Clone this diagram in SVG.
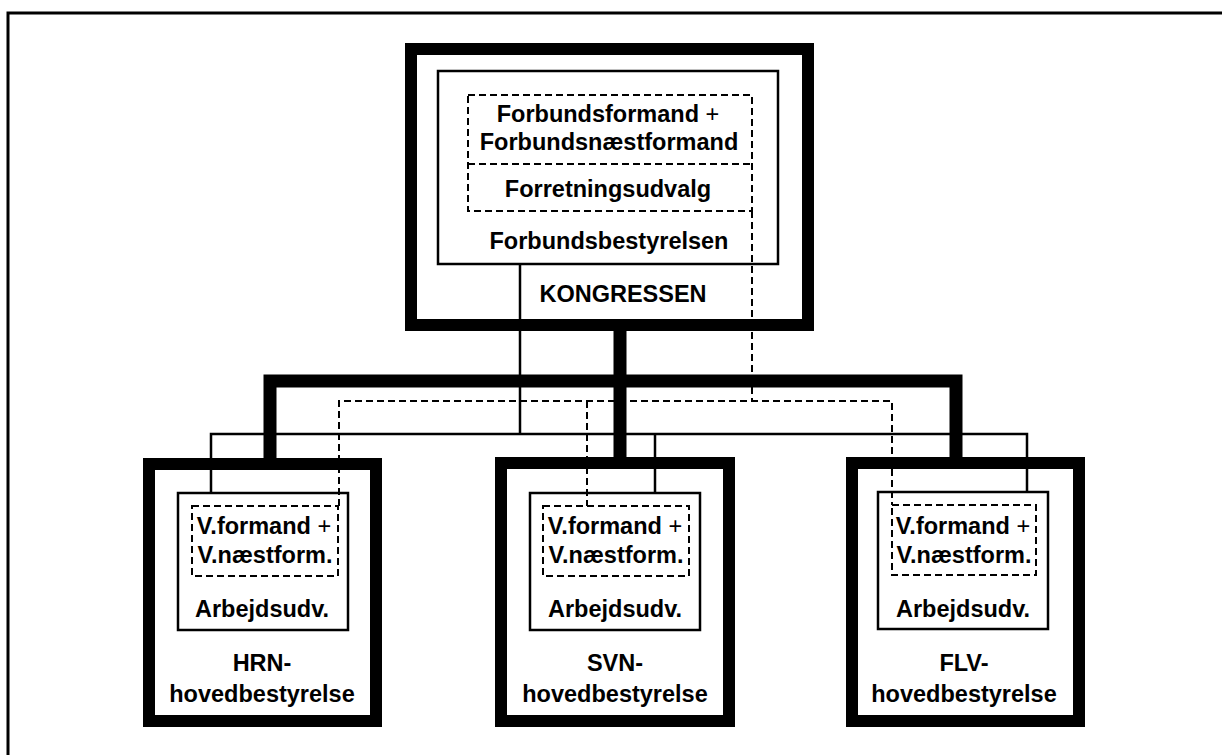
<svg xmlns="http://www.w3.org/2000/svg" width="1222" height="755" viewBox="0 0 1222 755">
<style>
  .thick { fill: #fff; stroke: #000; stroke-width: 12; }
  .box { fill: #fff; stroke: #000; stroke-width: 2.5; }
  .dbox { fill: none; stroke: #000; stroke-width: 2; stroke-dasharray: 7 4; }
  .t { font-family: "Liberation Sans", Arial, sans-serif; font-weight: bold; font-size: 23.5px; text-anchor: middle; fill: #000; }
  .plus { font-weight: normal; }
  .cthick { fill: none; stroke: #000; stroke-width: 13; }
  .cthin { fill: none; stroke: #000; stroke-width: 2.5; }
  .cdash { fill: none; stroke: #000; stroke-width: 2; stroke-dasharray: 7 4; }
</style>
<rect width="1222" height="755" fill="#fff"/>
<path d="M8,755 V13 H1222" fill="none" stroke="#000" stroke-width="3"/>

<g id="kongressen">
  <rect class="thick" x="411" y="49" width="397" height="276"/>
  <text class="t" x="623" y="302">KONGRESSEN</text>
</g>
<g id="forbundsbestyrelsen">
  <rect class="box" x="438" y="71" width="340" height="193"/>
  <text class="t" x="609" y="249">Forbundsbestyrelsen</text>
</g>
<g id="forretningsudvalg">
  <rect class="dbox" x="468" y="95" width="284" height="116"/>
  <text class="t" x="608" y="197">Forretningsudvalg</text>
</g>
<g id="forbundsformand">
  <line class="dbox" x1="468" y1="164" x2="752" y2="164"/>
  <text class="t" x="608" y="122">Forbundsformand <tspan class="plus">+</tspan></text>
  <text class="t" x="609" y="150">Forbundsnæstformand</text>
</g>

<g id="hrn">
  <rect class="thick" x="149" y="464" width="227" height="257"/>
  <text class="t" x="262" y="671">HRN-</text>
  <text class="t" x="262" y="702">hovedbestyrelse</text>
</g>
<g id="hrn-arbejdsudvalg">
  <rect class="box" x="178" y="493" width="170" height="137"/>
  <text class="t" x="262" y="617">Arbejdsudv.</text>
</g>
<g id="hrn-formand">
  <rect class="dbox" x="192" y="506" width="146" height="70"/>
  <text class="t" x="264" y="534">V.formand <tspan class="plus">+</tspan></text>
  <text class="t" x="265" y="563">V.næstform.</text>
</g>

<g id="svn">
  <rect class="thick" x="501" y="463" width="228" height="258"/>
  <text class="t" x="615" y="671">SVN-</text>
  <text class="t" x="615" y="702">hovedbestyrelse</text>
</g>
<g id="svn-arbejdsudvalg">
  <rect class="box" x="530" y="493" width="170" height="137"/>
  <text class="t" x="615" y="617">Arbejdsudv.</text>
</g>
<g id="svn-formand">
  <rect class="dbox" x="543" y="506" width="146" height="70"/>
  <text class="t" x="615" y="534">V.formand <tspan class="plus">+</tspan></text>
  <text class="t" x="616" y="563">V.næstform.</text>
</g>

<g id="flv">
  <rect class="thick" x="852" y="463" width="227" height="258"/>
  <text class="t" x="964" y="671">FLV-</text>
  <text class="t" x="964" y="702">hovedbestyrelse</text>
</g>
<g id="flv-arbejdsudvalg">
  <rect class="box" x="878" y="492" width="170" height="137"/>
  <text class="t" x="963" y="617">Arbejdsudv.</text>
</g>
<g id="flv-formand">
  <rect class="dbox" x="892" y="505" width="144" height="70"/>
  <text class="t" x="963" y="534">V.formand <tspan class="plus">+</tspan></text>
  <text class="t" x="964" y="563">V.næstform.</text>
</g>

<g id="connectors">
  <path class="cthick" d="M620,325 V463"/>
  <path class="cthick" d="M270,464 V381 H956 V463"/>
  <path class="cthin" d="M520,264 V434"/>
  <path class="cthin" d="M211,493 V434 H1027 V492"/>
  <path class="cthin" d="M655,434 V493"/>
  <path class="cdash" d="M752,211 V401"/>
  <path class="cdash" d="M339,506 V401 H892 V505"/>
  <path class="cdash" d="M587,401 V506"/>
</g>
</svg>
